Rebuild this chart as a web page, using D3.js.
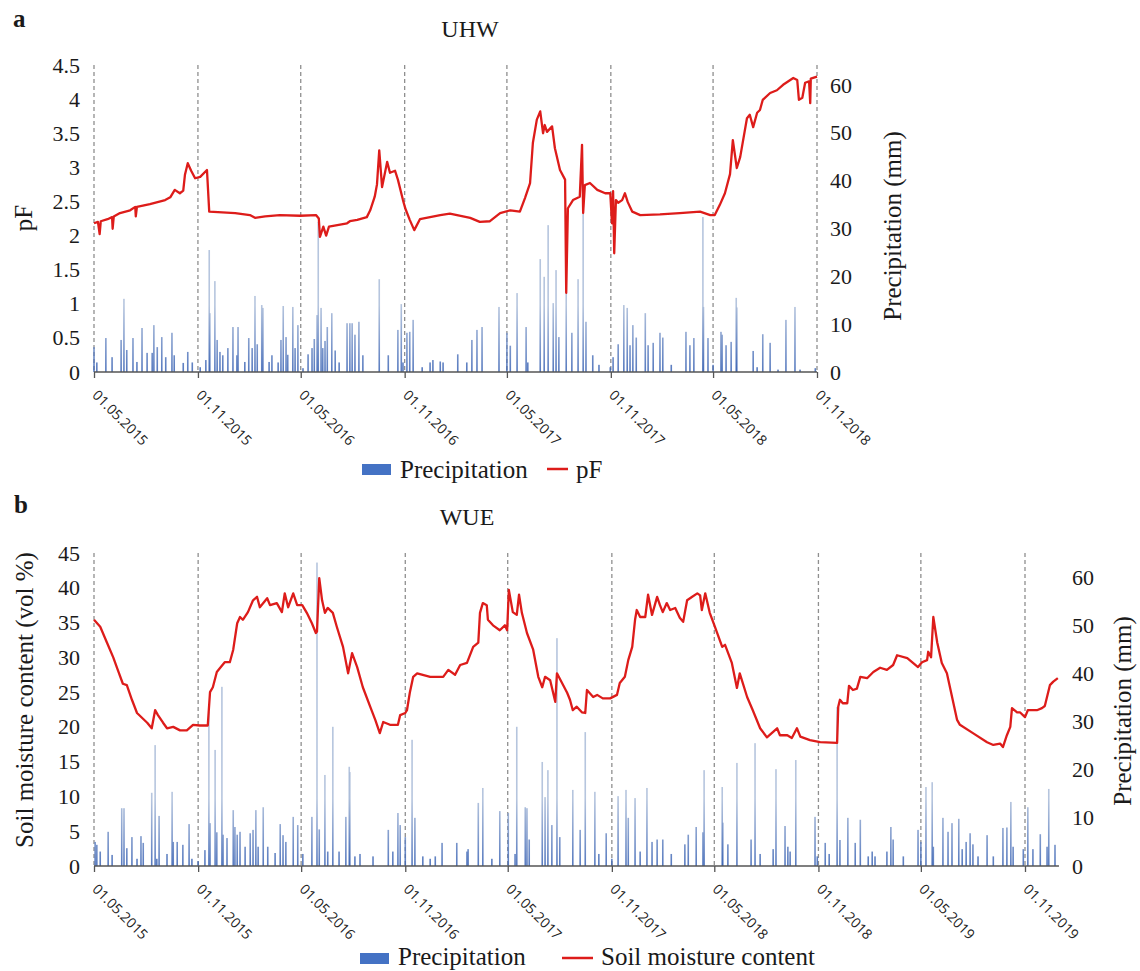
<!DOCTYPE html>
<html>
<head>
<meta charset="utf-8">
<script src="https://cdn.jsdelivr.net/npm/d3@7"></script>
<style>
  body { margin: 0; background: #fff; }
  svg text { font-family: "Liberation Serif", "Times New Roman", serif; fill: #1a1a1a; }
  .xlab text { font-family: "Open Sans", sans-serif; }
</style>
</head>
<body>
<svg id="chart" width="1140" height="971"></svg>
<script>
// ---- panel a (UHW) ----
const ticksA = ["2015-05-01","2015-11-01","2016-05-01","2016-11-01","2017-05-01","2017-11-01","2018-05-01","2018-11-01"];
const leftTicksA = [0,0.5,1,1.5,2,2.5,3,3.5,4,4.5];
const rightTicks = [0,10,20,30,40,50,60];

// pF
const pfA = [
  ["2015-05-01",2.18],["2015-05-08",2.20],["2015-05-11",2.02],["2015-05-13",2.21],["2015-05-25",2.24],
  ["2015-06-02",2.27],["2015-06-03",2.10],["2015-06-05",2.28],["2015-06-16",2.33],["2015-07-04",2.37],
  ["2015-07-13",2.42],["2015-07-14",2.28],["2015-07-16",2.42],["2015-08-08",2.46],["2015-09-04",2.52],
  ["2015-09-13",2.56],["2015-09-21",2.67],["2015-09-30",2.62],["2015-10-06",2.66],["2015-10-09",2.89],
  ["2015-10-14",3.06],["2015-10-20",2.95],["2015-10-27",2.84],["2015-11-05",2.86],["2015-11-17",2.96],
  ["2015-11-21",2.35],["2016-01-06",2.33],["2016-02-01",2.30],["2016-02-10",2.26],["2016-02-28",2.28],
  ["2016-03-25",2.30],["2016-04-30",2.29],["2016-05-28",2.30],["2016-06-02",2.25],["2016-06-04",1.98],
  ["2016-06-10",2.13],["2016-06-15",2.00],["2016-06-20",2.13],["2016-07-22",2.18],["2016-07-27",2.21],
  ["2016-08-09",2.23],["2016-08-26",2.27],["2016-09-01",2.37],["2016-09-09",2.57],["2016-09-13",2.75],
  ["2016-09-17",3.25],["2016-09-22",2.71],["2016-10-01",3.08],["2016-10-06",2.92],["2016-10-15",2.95],
  ["2016-10-20",2.82],["2016-10-29",2.52],["2016-11-02",2.40],["2016-11-10",2.23],["2016-11-18",2.08],
  ["2016-11-28",2.24],["2017-01-03",2.30],["2017-01-20",2.32],["2017-02-25",2.26],["2017-03-14",2.20],
  ["2017-04-01",2.21],["2017-04-19",2.33],["2017-05-07",2.37],["2017-05-24",2.35],["2017-06-02",2.55],
  ["2017-06-11",2.77],["2017-06-16",3.36],["2017-06-23",3.70],["2017-06-29",3.82],["2017-07-04",3.50],
  ["2017-07-07",3.62],["2017-07-11",3.52],["2017-07-20",3.60],["2017-07-25",3.28],["2017-08-03",2.96],
  ["2017-08-12",2.82],["2017-08-14",1.16],["2017-08-17",2.40],["2017-08-26",2.52],["2017-09-07",2.57],
  ["2017-09-11",3.33],["2017-09-13",2.33],["2017-09-16",2.74],["2017-09-25",2.77],["2017-10-08",2.67],
  ["2017-10-22",2.62],["2017-10-31",2.62],["2017-11-03",2.18],["2017-11-05",2.65],["2017-11-07",1.74],
  ["2017-11-10",2.52],["2017-11-14",2.48],["2017-11-21",2.52],["2017-11-26",2.62],["2017-12-01",2.49],
  ["2017-12-09",2.35],["2017-12-23",2.30],["2018-01-27",2.31],["2018-03-03",2.33],["2018-04-08",2.35],
  ["2018-04-26",2.30],["2018-05-04",2.30],["2018-05-13",2.45],["2018-05-22",2.62],["2018-05-31",2.90],
  ["2018-06-05",3.40],["2018-06-12",2.99],["2018-06-18",3.15],["2018-06-30",3.72],["2018-07-05",3.77],
  ["2018-07-11",3.59],["2018-07-18",3.80],["2018-07-23",3.84],["2018-07-28",3.99],["2018-08-10",4.09],
  ["2018-08-22",4.13],["2018-09-02",4.21],["2018-09-20",4.31],["2018-09-27",4.28],["2018-09-30",3.99],
  ["2018-10-06",4.02],["2018-10-11",4.24],["2018-10-18",4.26],["2018-10-20",3.94],["2018-10-21",4.30],
  ["2018-11-01",4.33]
];

// daily precipitation (mm), only the visible events
const precipA = [
  ["2015-05-01",5.2],["2015-05-06",2.0],["2015-05-22",7.1],["2015-06-02",3.1],["2015-06-18",6.7],["2015-06-23",15.3],
  ["2015-06-28",4.6],["2015-07-09",7.1],["2015-07-16",2.1],["2015-07-25",9.2],["2015-08-03",4.0],["2015-08-12",4.0],
  ["2015-08-15",9.8],["2015-08-21",5.2],["2015-08-29",7.3],["2015-09-05",3.1],["2015-09-16",8.2],["2015-09-20",3.5],
  ["2015-10-06",1.9],["2015-10-14",4.2],["2015-10-22",2.0],["2015-11-05",1.0],["2015-11-15",2.5],["2015-11-21",25.5],
  ["2015-11-22",12.3],["2015-12-01",19.0],["2015-12-05",6.7],["2015-12-10",4.2],["2015-12-15",3.5],["2015-12-24",5.0],
  ["2016-01-02",9.4],["2016-01-09",3.5],["2016-01-11",9.4],["2016-01-23",2.1],["2016-01-30",7.1],["2016-02-05",5.0],
  ["2016-02-10",15.9],["2016-02-14",5.8],["2016-02-22",14.0],["2016-02-24",13.4],["2016-03-06",2.1],["2016-03-11",3.5],
  ["2016-03-22",2.0],["2016-03-27",6.7],["2016-03-31",13.8],["2016-04-05",7.3],["2016-04-08",3.6],["2016-04-17",13.6],
  ["2016-04-21",5.0],["2016-04-26",9.8],["2016-05-05",0.8],["2016-05-14",3.7],["2016-05-21",5.0],["2016-05-25",6.9],
  ["2016-05-30",11.9],["2016-06-01",31.4],["2016-06-06",13.4],["2016-06-09",5.0],["2016-06-13",6.5],["2016-06-17",9.4],
  ["2016-06-25",12.3],["2016-07-01",4.5],["2016-07-08",2.0],["2016-07-22",10.2],["2016-07-27",10.2],["2016-07-31",10.2],
  ["2016-08-05",7.8],["2016-08-12",10.5],["2016-08-19",3.5],["2016-09-17",19.4],["2016-10-03",3.5],["2016-10-20",8.8],
  ["2016-10-26",14.2],["2016-10-29",2.0],["2016-11-05",8.2],["2016-11-10",8.4],["2016-11-16",10.9],["2016-12-02",1.0],
  ["2016-12-16",2.0],["2016-12-21",2.5],["2017-01-03",2.2],["2017-01-08",2.0],["2017-02-03",3.7],["2017-02-19",2.0],
  ["2017-02-28",6.7],["2017-03-09",8.8],["2017-03-18",9.4],["2017-04-17",13.6],["2017-05-01",8.2],["2017-05-07",5.5],
  ["2017-05-19",16.5],["2017-06-04",9.4],["2017-06-07",2.0],["2017-06-29",23.6],["2017-07-06",19.9],["2017-07-13",30.7],
  ["2017-07-22",14.4],["2017-07-27",21.3],["2017-08-01",7.3],["2017-08-14",16.5],["2017-08-24",8.2],["2017-09-04",19.4],
  ["2017-09-13",33.2],["2017-09-18",10.5],["2017-09-30",3.5],["2017-10-11",1.5],["2017-10-31",1.0],["2017-11-05",3.1],
  ["2017-11-14",5.8],["2017-11-24",14.0],["2017-11-30",13.4],["2017-12-05",5.6],["2017-12-10",9.8],["2017-12-16",7.2],
  ["2018-01-01",12.3],["2018-01-06",5.6],["2018-01-15",6.1],["2018-01-27",8.2],["2018-02-01",7.2],["2018-02-16",1.5],
  ["2018-03-14",8.4],["2018-03-21",5.6],["2018-03-28",7.1],["2018-04-13",32.4],["2018-04-14",13.6],["2018-04-22",7.1],
  ["2018-05-01",1.5],["2018-05-15",8.4],["2018-05-17",7.8],["2018-05-24",5.6],["2018-06-02",6.3],["2018-06-11",15.5],
  ["2018-06-12",13.5],["2018-07-11",4.4],["2018-07-18",1.0],["2018-07-28",7.9],["2018-08-10",6.1],["2018-08-24",0.5],
  ["2018-09-07",10.9],["2018-09-23",13.6],["2018-10-02",0.5],["2018-10-29",0.8]
];

// ---- panel b (WUE) ----
const ticksB = ["2015-05-01","2015-11-01","2016-05-01","2016-11-01","2017-05-01","2017-11-01","2018-05-01","2018-11-01","2019-05-01","2019-11-01"];
const leftTicksB = [0,5,10,15,20,25,30,35,40,45];

// soil moisture content (vol %)
const smcB = [
  ["2015-05-01",35.4],["2015-05-12",34.4],["2015-05-24",32.1],["2015-06-04",30.0],["2015-06-12",28.2],["2015-06-21",26.2],
  ["2015-06-28",26.0],["2015-07-07",23.9],["2015-07-16",22.0],["2015-08-03",20.6],["2015-08-11",19.8],["2015-08-17",22.4],
  ["2015-08-22",21.7],["2015-08-31",20.6],["2015-09-07",19.8],["2015-09-18",20.0],["2015-09-30",19.5],["2015-10-12",19.5],
  ["2015-10-23",20.3],["2015-11-04",20.2],["2015-11-18",20.2],["2015-11-22",25.0],["2015-11-27",25.7],["2015-12-04",27.9],
  ["2015-12-10",28.5],["2015-12-18",29.3],["2015-12-27",29.3],["2016-01-02",31.1],["2016-01-09",34.9],["2016-01-14",35.8],
  ["2016-01-19",35.4],["2016-01-28",36.5],["2016-02-06",38.2],["2016-02-13",38.7],["2016-02-18",37.2],["2016-03-02",38.5],
  ["2016-03-07",37.5],["2016-03-19",37.8],["2016-03-28",36.5],["2016-04-02",39.2],["2016-04-08",37.2],["2016-04-17",39.2],
  ["2016-04-24",37.5],["2016-05-03",37.5],["2016-05-11",36.4],["2016-05-20",34.9],["2016-05-27",33.5],["2016-05-29",33.7],
  ["2016-06-02",41.4],["2016-06-07",38.2],["2016-06-12",36.4],["2016-06-17",37.1],["2016-06-26",36.4],["2016-07-03",34.4],
  ["2016-07-14",31.5],["2016-07-23",27.7],["2016-07-30",30.6],["2016-08-08",28.6],["2016-08-18",25.7],["2016-08-31",22.9],
  ["2016-09-09",21.0],["2016-09-17",19.1],["2016-09-23",20.7],["2016-10-05",20.3],["2016-10-19",20.3],["2016-10-23",21.7],
  ["2016-11-01",22.0],["2016-11-04",22.4],["2016-11-09",24.9],["2016-11-15",27.2],["2016-11-22",27.7],["2016-12-15",27.2],
  ["2017-01-07",27.2],["2017-01-16",28.2],["2017-01-28",27.5],["2017-02-06",28.9],["2017-02-18",29.2],["2017-03-01",31.5],
  ["2017-03-10",32.1],["2017-03-13",36.4],["2017-03-18",37.8],["2017-03-25",37.5],["2017-03-27",35.4],["2017-04-05",34.6],
  ["2017-04-17",33.9],["2017-04-26",34.6],["2017-04-30",33.9],["2017-05-03",39.7],["2017-05-10",36.5],["2017-05-17",36.1],
  ["2017-05-21",39.0],["2017-05-26",36.4],["2017-06-04",33.5],["2017-06-15",31.1],["2017-06-24",27.2],["2017-07-01",25.7],
  ["2017-07-06",27.2],["2017-07-15",26.7],["2017-07-24",23.6],["2017-07-27",27.7],["2017-08-05",26.3],["2017-08-14",24.9],
  ["2017-08-19",23.9],["2017-08-24",22.4],["2017-08-31",22.9],["2017-09-09",22.1],["2017-09-15",22.0],["2017-09-18",25.3],
  ["2017-09-29",24.3],["2017-10-06",24.6],["2017-10-16",24.1],["2017-10-29",24.1],["2017-11-10",24.6],["2017-11-15",26.3],
  ["2017-11-24",27.2],["2017-11-30",29.6],["2017-12-07",31.5],["2017-12-12",35.4],["2017-12-15",36.8],["2017-12-21",35.8],
  ["2017-12-30",35.8],["2018-01-04",39.0],["2018-01-11",36.1],["2018-01-20",38.7],["2018-01-25",37.5],["2018-01-30",36.5],
  ["2018-02-06",37.8],["2018-02-12",36.8],["2018-02-21",37.1],["2018-03-01",35.7],["2018-03-07",35.1],["2018-03-14",38.2],
  ["2018-03-23",38.7],["2018-04-01",39.2],["2018-04-06",38.9],["2018-04-09",36.8],["2018-04-15",39.2],["2018-04-23",36.4],
  ["2018-05-02",34.4],["2018-05-15",31.5],["2018-05-20",31.8],["2018-06-01",29.2],["2018-06-10",25.6],["2018-06-15",27.7],
  ["2018-06-28",24.3],["2018-07-08",22.4],["2018-07-21",19.8],["2018-08-02",18.5],["2018-08-20",19.8],["2018-08-25",18.8],
  ["2018-09-07",18.8],["2018-09-15",18.4],["2018-09-24",19.8],["2018-09-30",18.6],["2018-10-17",18.1],["2018-11-04",17.8],
  ["2018-12-04",17.7],["2018-12-06",22.9],["2018-12-09",23.9],["2018-12-14",23.4],["2018-12-22",23.4],["2018-12-25",25.9],
  ["2019-01-01",25.3],["2019-01-08",25.5],["2019-01-14",27.2],["2019-01-26",27.0],["2019-02-06",27.9],["2019-02-18",28.5],
  ["2019-03-02",28.2],["2019-03-13",28.9],["2019-03-20",30.3],["2019-04-07",29.9],["2019-04-26",28.6],["2019-05-03",29.3],
  ["2019-05-12",29.6],["2019-05-14",30.8],["2019-05-19",30.0],["2019-05-23",35.8],["2019-05-30",32.1],["2019-06-07",29.2],
  ["2019-06-16",27.7],["2019-07-04",21.0],["2019-07-09",20.3],["2019-08-01",19.1],["2019-08-26",17.8],["2019-09-06",17.4],
  ["2019-09-18",17.6],["2019-09-23",17.1],["2019-09-30",18.8],["2019-10-06",20.0],["2019-10-09",22.7],["2019-10-18",22.1],
  ["2019-10-23",22.1],["2019-11-01",21.4],["2019-11-06",22.4],["2019-11-22",22.4],["2019-12-01",22.7],["2019-12-06",23.0],
  ["2019-12-15",26.0],["2019-12-21",26.5],["2019-12-29",27.0]
];

const precipB = [
  ["2015-05-03",5.0],["2015-05-06",4.4],["2015-05-12",3.0],["2015-05-26",7.1],["2015-06-02",2.3],["2015-06-19",12.0],
  ["2015-06-23",12.0],["2015-06-28",3.7],["2015-07-07",6.0],["2015-07-16",1.5],["2015-07-23",6.2],["2015-07-27",4.8],
  ["2015-08-11",15.2],["2015-08-17",25.1],["2015-08-20",1.5],["2015-08-24",10.4],["2015-09-07",2.5],["2015-09-16",15.4],
  ["2015-09-18",5.0],["2015-09-25",5.0],["2015-10-05",4.4],["2015-10-16",8.7],["2015-10-21",1.5],["2015-11-01",1.0],
  ["2015-11-13",3.3],["2015-11-20",32.0],["2015-11-22",8.9],["2015-12-01",24.1],["2015-12-04",7.0],["2015-12-13",37.2],
  ["2015-12-15",6.5],["2015-12-22",5.8],["2016-01-02",11.6],["2016-01-05",8.1],["2016-01-09",6.5],["2016-01-14",7.1],
  ["2016-01-23",4.0],["2016-02-01",6.8],["2016-02-06",7.5],["2016-02-11",11.6],["2016-02-15",4.0],["2016-02-24",12.2],
  ["2016-03-03",4.0],["2016-03-16",2.7],["2016-03-25",8.7],["2016-03-30",6.4],["2016-04-04",5.0],["2016-04-17",10.2],
  ["2016-04-25",8.5],["2016-05-04",2.5],["2016-05-20",10.2],["2016-05-29",63.0],["2016-06-02",7.6],["2016-06-12",18.9],
  ["2016-06-17",3.0],["2016-06-26",28.9],["2016-07-07",3.0],["2016-07-19",10.2],["2016-07-25",20.6],["2016-07-26",19.5],
  ["2016-08-04",2.0],["2016-08-13",2.5],["2016-09-05",2.0],["2016-10-02",7.5],["2016-10-10",3.0],["2016-10-19",11.0],
  ["2016-10-23",8.5],["2016-11-01",6.0],["2016-11-13",26.2],["2016-11-18",10.0],["2016-12-02",2.0],["2016-12-15",1.5],
  ["2016-12-24",2.0],["2017-01-05",4.8],["2017-01-31",4.8],["2017-02-18",3.0],["2017-02-20",3.5],["2017-03-10",13.1],
  ["2017-03-18",16.2],["2017-04-03",1.5],["2017-04-17",11.4],["2017-05-02",11.0],["2017-05-14",2.5],["2017-05-17",28.9],
  ["2017-06-01",12.2],["2017-06-04",12.0],["2017-06-08",5.5],["2017-07-01",21.6],["2017-07-06",14.3],["2017-07-11",19.9],
  ["2017-07-18",8.5],["2017-07-27",47.3],["2017-08-01",6.0],["2017-08-24",15.8],["2017-09-06",7.5],["2017-09-15",27.8],
  ["2017-10-02",15.4],["2017-10-09",2.5],["2017-10-22",6.8],["2017-11-01",1.5],["2017-11-12",14.5],["2017-11-26",15.8],
  ["2017-11-30",10.0],["2017-12-12",14.1],["2017-12-21",3.0],["2018-01-02",16.2],["2018-01-11",5.0],["2018-01-20",5.5],
  ["2018-01-30",5.5],["2018-02-14",2.5],["2018-03-10",4.5],["2018-03-16",6.5],["2018-03-30",8.1],["2018-04-11",7.0],
  ["2018-04-13",19.9],["2018-05-15",16.4],["2018-05-16",9.0],["2018-05-25",4.5],["2018-06-10",21.4],["2018-07-05",5.5],
  ["2018-07-12",25.5],["2018-07-21",2.5],["2018-08-13",3.5],["2018-08-18",20.1],["2018-09-03",8.3],["2018-09-08",4.0],
  ["2018-09-12",3.0],["2018-09-22",22.0],["2018-10-26",10.2],["2018-10-30",2.0],["2018-11-13",4.8],["2018-11-20",2.5],
  ["2018-12-04",33.0],["2018-12-09",5.4],["2018-12-23",10.0],["2019-01-05",4.8],["2019-01-14",9.6],["2019-01-28",2.0],
  ["2019-02-04",3.0],["2019-02-09",2.0],["2019-03-02",3.0],["2019-03-09",8.1],["2019-03-13",5.5],["2019-03-31",2.0],
  ["2019-04-26",7.5],["2019-05-01",5.0],["2019-05-10",16.4],["2019-05-21",17.4],["2019-05-23",4.0],["2019-06-09",10.0],
  ["2019-06-18",7.1],["2019-06-25",8.9],["2019-07-07",9.8],["2019-07-13",3.5],["2019-07-20",5.0],["2019-07-27",6.8],
  ["2019-08-01",4.5],["2019-08-10",2.0],["2019-08-26",6.4],["2019-09-06",2.0],["2019-09-23",7.9],["2019-09-30",8.0],
  ["2019-10-07",13.3],["2019-10-11",4.0],["2019-10-29",3.5],["2019-11-06",12.2],["2019-11-15",3.5],["2019-11-28",6.6],
  ["2019-12-10",4.0],["2019-12-13",16.0],["2019-12-24",4.4]
];

const parse = d3.timeParse("%Y-%m-%d");
const fmt = d3.timeFormat("%d.%m.%Y");
const svg = d3.select("#chart");
const defs = svg.append("defs");

class PanelChart {
  constructor(opts) {
    this.o = opts;
    this.draw();
  }

  draw() {
    const o = this.o;
    const g = svg.append("g");
    const ticks = o.ticks.map(parse);

    const x = d3.scaleTime()
      .domain([ticks[0], ticks[ticks.length - 1]])
      .range([o.left, o.lastTickX]);
    const xEnd = x(parse(o.end));
    const yL = d3.scaleLinear().domain([0, o.leftMax]).range([o.bottom, o.top]);
    const yR = d3.scaleLinear().domain([0, 60]).range([o.bottom, o.r60]);

    // bars go darker near the baseline, like the dense original
    const grad = defs.append("linearGradient").attr("id", "bars" + o.letter)
      .attr("gradientUnits", "userSpaceOnUse")
      .attr("x1", 0).attr("x2", 0).attr("y1", o.bottom).attr("y2", yR(14));
    grad.append("stop").attr("offset", 0).attr("stop-color", "#3a63b4");
    grad.append("stop").attr("offset", 1).attr("stop-color", "#a9bbd8");

    // dashed verticals
    g.selectAll(".vline").data(ticks).enter().append("line")
      .attr("x1", d => x(d)).attr("x2", d => x(d))
      .attr("y1", o.top).attr("y2", o.bottom)
      .attr("stroke", "#8f8f8f").attr("stroke-width", 1.3)
      .style("stroke-dasharray", "4,3");

    // precipitation bars
    g.selectAll(".bar").data(o.precip).enter().append("rect")
      .attr("x", d => x(parse(d[0])) - 0.8)
      .attr("width", 1.6)
      .attr("y", d => yR(d[1]))
      .attr("height", d => o.bottom - yR(d[1]))
      .attr("fill", "url(#bars" + o.letter + ")")
      .attr("fill-opacity", 0.85);

    // x axis
    const xa = g.append("g").attr("class", "xlab")
      .attr("transform", "translate(0," + o.bottom + ")")
      .call(d3.axisBottom(x).tickValues(ticks).tickSize(6).tickFormat(fmt));
    xa.select(".domain").remove();
    xa.selectAll("line").attr("stroke", "#555").attr("stroke-width", 1.3);
    xa.selectAll("text")
      .attr("x", 0).attr("y", 0).attr("dy", 0)
      .attr("text-anchor", "start")
      .attr("transform", "translate(-3,24) rotate(45)")
      .style("font-size", "14px").style("fill", "#222");
    g.append("line")
      .attr("x1", o.left).attr("x2", xEnd)
      .attr("y1", o.bottom).attr("y2", o.bottom)
      .attr("stroke", "#555").attr("stroke-width", 1.5);

    // red line
    const line = d3.line()
      .x(d => x(parse(d[0])))
      .y(d => yL(d[1]));
    g.append("path").datum(o.series)
      .attr("d", line)
      .attr("fill", "none")
      .attr("stroke", "#dd1c1a")
      .attr("stroke-width", 2.3)
      .attr("stroke-linejoin", "round");

    // left axis
    const la = g.append("g")
      .attr("transform", "translate(" + o.left + ",0)")
      .call(d3.axisLeft(yL).tickValues(o.leftTicks).tickSize(0).tickPadding(14).tickFormat(d => String(d)));
    la.select(".domain").remove();
    la.selectAll("text").style("font-size", "22px");

    // right axis
    const ra = g.append("g")
      .attr("transform", "translate(" + o.rightAxisX + ",0)")
      .call(d3.axisRight(yR).tickValues(rightTicks).tickSize(0).tickPadding(13));
    ra.select(".domain").remove();
    ra.selectAll("text").style("font-size", "22px");

    // titles
    g.append("text").attr("x", o.letterX).attr("y", o.letterY)
      .style("font-size", "25px").style("font-weight", "bold").text(o.letter);
    g.append("text").attr("x", o.titleX).attr("y", o.titleY)
      .attr("text-anchor", "middle").style("font-size", "24px").text(o.title);
    g.append("text")
      .attr("transform", "translate(" + o.leftLabelX + "," + o.leftLabelY + ") rotate(-90)")
      .attr("text-anchor", "middle").style("font-size", "25px").text(o.leftLabel);
    g.append("text")
      .attr("transform", "translate(" + o.rightLabelX + "," + o.rightLabelY + ") rotate(-90)")
      .attr("text-anchor", "middle").style("font-size", "25px").text("Precipitation (mm)");

    // legend
    const lg = o.legend;
    g.append("rect").attr("x", lg.rectX).attr("y", lg.y - 5).attr("width", 29).attr("height", 11)
      .attr("fill", "#4472c4");
    g.append("text").attr("x", lg.rectX + 38).attr("y", lg.y + lg.dy)
      .style("font-size", "25px").text("Precipitation");
    g.append("line").attr("x1", lg.lineX).attr("x2", lg.lineX + lg.lineW)
      .attr("y1", lg.y).attr("y2", lg.y)
      .attr("stroke", "#dd1c1a").attr("stroke-width", 2.5);
    g.append("text").attr("x", lg.lineX + lg.lineW + 8).attr("y", lg.y + lg.dy)
      .style("font-size", "25px").text(o.seriesName);
  }
}

new PanelChart({
  ticks: ticksA, end: "2018-11-01", left: 94, lastTickX: 817,
  top: 65, bottom: 372, leftMax: 4.5, r60: 85, rightAxisX: 817,
  leftTicks: leftTicksA, precip: precipA, series: pfA, seriesName: "pF",
  letter: "a", letterX: 13, letterY: 27, title: "UHW", titleX: 470, titleY: 37,
  leftLabel: "pF", leftLabelX: 32, leftLabelY: 218,
  rightLabelX: 901, rightLabelY: 226,
  legend: { rectX: 362, y: 469, dy: 9, lineX: 547, lineW: 21 }
});

new PanelChart({
  ticks: ticksB, end: "2019-12-31", left: 94, lastTickX: 1025,
  top: 553, bottom: 866, leftMax: 45, r60: 577, rightAxisX: 1059,
  leftTicks: leftTicksB, precip: precipB, series: smcB, seriesName: "Soil moisture content",
  letter: "b", letterX: 14, letterY: 513, title: "WUE", titleX: 467, titleY: 525,
  leftLabel: "Soil moisture content (vol %)", leftLabelX: 33, leftLabelY: 700,
  rightLabelX: 1131, rightLabelY: 711,
  legend: { rectX: 360, y: 958, dy: 7, lineX: 562, lineW: 31 }
});
</script>
</body>
</html>
